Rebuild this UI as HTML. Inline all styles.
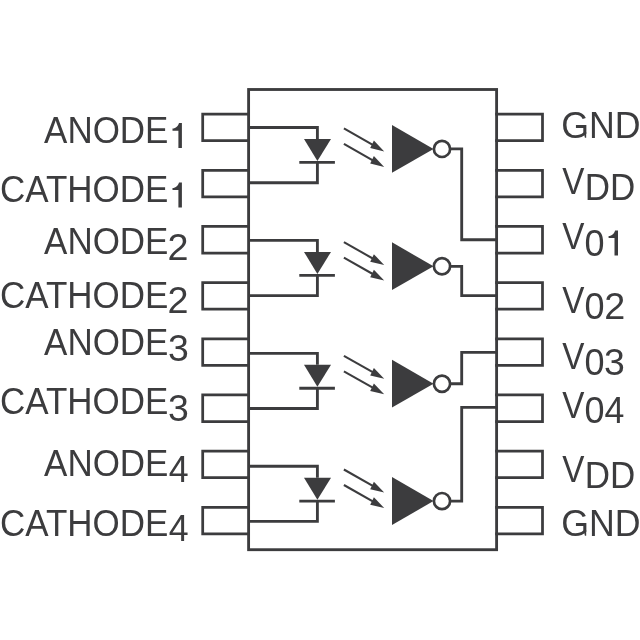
<!DOCTYPE html>
<html><head><meta charset="utf-8"><style>
html,body{margin:0;padding:0;background:#fff;width:640px;height:640px;overflow:hidden}
svg{display:block;will-change:transform}
text{font-family:"Liberation Sans",sans-serif;fill:#3c3c3e}
</style></head><body>
<svg width="640" height="640" viewBox="0 0 640 640">
<rect x="248.6" y="89.5" width="248.00000000000003" height="460.20000000000005" fill="none" stroke="#3c3c3e" stroke-width="2.85"/>
<path d="M248.6 114.10H202.7V140.70H248.6" fill="none" stroke="#3c3c3e" stroke-width="2.75" stroke-linecap="square"/>
<path d="M496.6 114.10H542.5V140.70H496.6" fill="none" stroke="#3c3c3e" stroke-width="2.75" stroke-linecap="square"/>
<path d="M248.6 170.27H202.7V196.87H248.6" fill="none" stroke="#3c3c3e" stroke-width="2.75" stroke-linecap="square"/>
<path d="M496.6 170.27H542.5V196.87H496.6" fill="none" stroke="#3c3c3e" stroke-width="2.75" stroke-linecap="square"/>
<path d="M248.6 226.44H202.7V253.04H248.6" fill="none" stroke="#3c3c3e" stroke-width="2.75" stroke-linecap="square"/>
<path d="M496.6 226.44H542.5V253.04H496.6" fill="none" stroke="#3c3c3e" stroke-width="2.75" stroke-linecap="square"/>
<path d="M248.6 282.61H202.7V309.21H248.6" fill="none" stroke="#3c3c3e" stroke-width="2.75" stroke-linecap="square"/>
<path d="M496.6 282.61H542.5V309.21H496.6" fill="none" stroke="#3c3c3e" stroke-width="2.75" stroke-linecap="square"/>
<path d="M248.6 338.78H202.7V365.38H248.6" fill="none" stroke="#3c3c3e" stroke-width="2.75" stroke-linecap="square"/>
<path d="M496.6 338.78H542.5V365.38H496.6" fill="none" stroke="#3c3c3e" stroke-width="2.75" stroke-linecap="square"/>
<path d="M248.6 394.95H202.7V421.55H248.6" fill="none" stroke="#3c3c3e" stroke-width="2.75" stroke-linecap="square"/>
<path d="M496.6 394.95H542.5V421.55H496.6" fill="none" stroke="#3c3c3e" stroke-width="2.75" stroke-linecap="square"/>
<path d="M248.6 451.12H202.7V477.72H248.6" fill="none" stroke="#3c3c3e" stroke-width="2.75" stroke-linecap="square"/>
<path d="M496.6 451.12H542.5V477.72H496.6" fill="none" stroke="#3c3c3e" stroke-width="2.75" stroke-linecap="square"/>
<path d="M248.6 507.29H202.7V533.89H248.6" fill="none" stroke="#3c3c3e" stroke-width="2.75" stroke-linecap="square"/>
<path d="M496.6 507.29H542.5V533.89H496.6" fill="none" stroke="#3c3c3e" stroke-width="2.75" stroke-linecap="square"/>
<path d="M248.6 127.50H317.4V139.00" fill="none" stroke="#3c3c3e" stroke-width="2.85"/>
<path d="M317.4 162.40V182.70H248.6" fill="none" stroke="#3c3c3e" stroke-width="2.85"/>
<polygon points="304,139.00 331,139.00 317.4,161.00" fill="#3c3c3e"/>
<path d="M299.3 162.40H334.9" stroke="#3c3c3e" stroke-width="2.85"/>
<path d="M343.9 128.40L375.4 146.30" stroke="#3c3c3e" stroke-width="2.05"/>
<polygon points="384.2,151.40 373.9,140.60 370.2,148.10" fill="#3c3c3e"/>
<path d="M343.9 143.90L375.4 161.80" stroke="#3c3c3e" stroke-width="2.05"/>
<polygon points="384.2,166.90 373.9,156.10 370.2,163.60" fill="#3c3c3e"/>
<polygon points="392,124.90 392,172.70 433.5,148.90" fill="#3c3c3e"/>
<circle cx="442" cy="148.90" r="8.1" fill="none" stroke="#3c3c3e" stroke-width="2.7"/>
<path d="M449.9 148.90H461.7V239.70H496.6" fill="none" stroke="#3c3c3e" stroke-width="2.85"/>
<path d="M248.6 240.40H317.4V251.90" fill="none" stroke="#3c3c3e" stroke-width="2.85"/>
<path d="M317.4 275.30V295.60H248.6" fill="none" stroke="#3c3c3e" stroke-width="2.85"/>
<polygon points="304,251.90 331,251.90 317.4,273.90" fill="#3c3c3e"/>
<path d="M299.3 275.30H334.9" stroke="#3c3c3e" stroke-width="2.85"/>
<path d="M343.9 242.10L375.4 260.00" stroke="#3c3c3e" stroke-width="2.05"/>
<polygon points="384.2,265.10 373.9,254.30 370.2,261.80" fill="#3c3c3e"/>
<path d="M343.9 257.60L375.4 275.50" stroke="#3c3c3e" stroke-width="2.05"/>
<polygon points="384.2,280.60 373.9,269.80 370.2,277.30" fill="#3c3c3e"/>
<polygon points="392,242.30 392,290.10 433.5,266.30" fill="#3c3c3e"/>
<circle cx="442" cy="266.30" r="8.1" fill="none" stroke="#3c3c3e" stroke-width="2.7"/>
<path d="M449.9 266.30H461.7V295.60H496.6" fill="none" stroke="#3c3c3e" stroke-width="2.85"/>
<path d="M248.6 353.30H317.4V364.80" fill="none" stroke="#3c3c3e" stroke-width="2.85"/>
<path d="M317.4 388.20V408.50H248.6" fill="none" stroke="#3c3c3e" stroke-width="2.85"/>
<polygon points="304,364.80 331,364.80 317.4,386.80" fill="#3c3c3e"/>
<path d="M299.3 388.20H334.9" stroke="#3c3c3e" stroke-width="2.85"/>
<path d="M343.9 355.80L375.4 373.70" stroke="#3c3c3e" stroke-width="2.05"/>
<polygon points="384.2,378.80 373.9,368.00 370.2,375.50" fill="#3c3c3e"/>
<path d="M343.9 371.30L375.4 389.20" stroke="#3c3c3e" stroke-width="2.05"/>
<polygon points="384.2,394.30 373.9,383.50 370.2,391.00" fill="#3c3c3e"/>
<polygon points="392,359.70 392,407.50 433.5,383.70" fill="#3c3c3e"/>
<circle cx="442" cy="383.70" r="8.1" fill="none" stroke="#3c3c3e" stroke-width="2.7"/>
<path d="M449.9 383.70H461.7V352.40H496.6" fill="none" stroke="#3c3c3e" stroke-width="2.85"/>
<path d="M248.6 466.20H317.4V477.70" fill="none" stroke="#3c3c3e" stroke-width="2.85"/>
<path d="M317.4 501.10V521.40H248.6" fill="none" stroke="#3c3c3e" stroke-width="2.85"/>
<polygon points="304,477.70 331,477.70 317.4,499.70" fill="#3c3c3e"/>
<path d="M299.3 501.10H334.9" stroke="#3c3c3e" stroke-width="2.85"/>
<path d="M343.9 469.50L375.4 487.40" stroke="#3c3c3e" stroke-width="2.05"/>
<polygon points="384.2,492.50 373.9,481.70 370.2,489.20" fill="#3c3c3e"/>
<path d="M343.9 485.00L375.4 502.90" stroke="#3c3c3e" stroke-width="2.05"/>
<polygon points="384.2,508.00 373.9,497.20 370.2,504.70" fill="#3c3c3e"/>
<polygon points="392,477.10 392,524.90 433.5,501.10" fill="#3c3c3e"/>
<circle cx="442" cy="501.10" r="8.1" fill="none" stroke="#3c3c3e" stroke-width="2.7"/>
<path d="M449.9 501.10H461.7V407.40H496.6" fill="none" stroke="#3c3c3e" stroke-width="2.85"/>
<text transform="translate(44.04 143.00) scale(0.9459 1.0)" font-size="37">ANODE</text>
<path d="M181.90 148.10V123.00H179.00C178.30 125.80 175.90 128.50 172.50 128.50V130.70H178.40V148.10Z" fill="#3c3c3e"/>
<text transform="translate(-0.02 202.00) scale(0.9459 1.0)" font-size="37">CATHODE</text>
<path d="M181.90 207.50V182.40H179.00C178.30 185.20 175.90 187.90 172.50 187.90V190.10H178.40V207.50Z" fill="#3c3c3e"/>
<text transform="translate(44.04 254.00) scale(0.9459 1.0)" font-size="37">ANODE</text>
<text transform="translate(167.60 260.00) scale(1.0216 1.0)" font-size="37">2</text>
<text transform="translate(-0.02 308.00) scale(0.9459 1.0)" font-size="37">CATHODE</text>
<text transform="translate(167.60 313.00) scale(1.0216 1.0)" font-size="37">2</text>
<text transform="translate(44.04 355.00) scale(0.9459 1.0)" font-size="37">ANODE</text>
<text transform="translate(168.07 361.00) scale(1.0122 1.0)" font-size="37">3</text>
<text transform="translate(-0.02 414.00) scale(0.9459 1.0)" font-size="37">CATHODE</text>
<text transform="translate(168.07 421.00) scale(1.0122 1.0)" font-size="37">3</text>
<text transform="translate(44.04 476.00) scale(0.9459 1.0)" font-size="37">ANODE</text>
<text transform="translate(168.68 482.00) scale(0.9649 1.0)" font-size="37">4</text>
<text transform="translate(-0.02 536.00) scale(0.9459 1.0)" font-size="37">CATHODE</text>
<text transform="translate(168.68 541.00) scale(0.9649 1.0)" font-size="37">4</text>
<text transform="translate(561.20 138.00) scale(0.9649 1.0)" font-size="37">GND</text>
<path d="M583.7 132.00H586.2V137.80H584.9Z" fill="#3c3c3e"/>
<text transform="translate(562.15 194.00) scale(0.8986 1.0)" font-size="37">V</text>
<text transform="translate(584.63 200.00) scale(0.9459 1.0)" font-size="37">DD</text>
<text transform="translate(562.15 249.00) scale(0.8986 1.0)" font-size="37">V</text>
<text transform="translate(584.39 255.50) scale(0.9743 1.0)" font-size="37">0</text>
<path d="M618.00 255.50V230.40H615.10C614.40 233.20 612.00 235.90 608.60 235.90V238.10H614.50V255.50Z" fill="#3c3c3e"/>
<text transform="translate(562.15 313.00) scale(0.8986 1.0)" font-size="37">V</text>
<text transform="translate(584.39 319.00) scale(0.9743 1.0)" font-size="37">0</text>
<text transform="translate(604.18 319.00) scale(1.0216 1.0)" font-size="37">2</text>
<text transform="translate(562.15 369.00) scale(0.8986 1.0)" font-size="37">V</text>
<text transform="translate(584.39 375.00) scale(0.9743 1.0)" font-size="37">0</text>
<text transform="translate(604.12 375.00) scale(1.0122 1.0)" font-size="37">3</text>
<text transform="translate(562.15 418.00) scale(0.8986 1.0)" font-size="37">V</text>
<text transform="translate(584.39 423.00) scale(0.9743 1.0)" font-size="37">0</text>
<text transform="translate(604.49 423.00) scale(0.9649 1.0)" font-size="37">4</text>
<text transform="translate(562.15 482.00) scale(0.8986 1.0)" font-size="37">V</text>
<text transform="translate(584.63 488.00) scale(0.9459 1.0)" font-size="37">DD</text>
<text transform="translate(561.20 536.00) scale(0.9649 1.0)" font-size="37">GND</text>
<path d="M583.7 530.00H586.2V535.80H584.9Z" fill="#3c3c3e"/>
</svg>
</body></html>
